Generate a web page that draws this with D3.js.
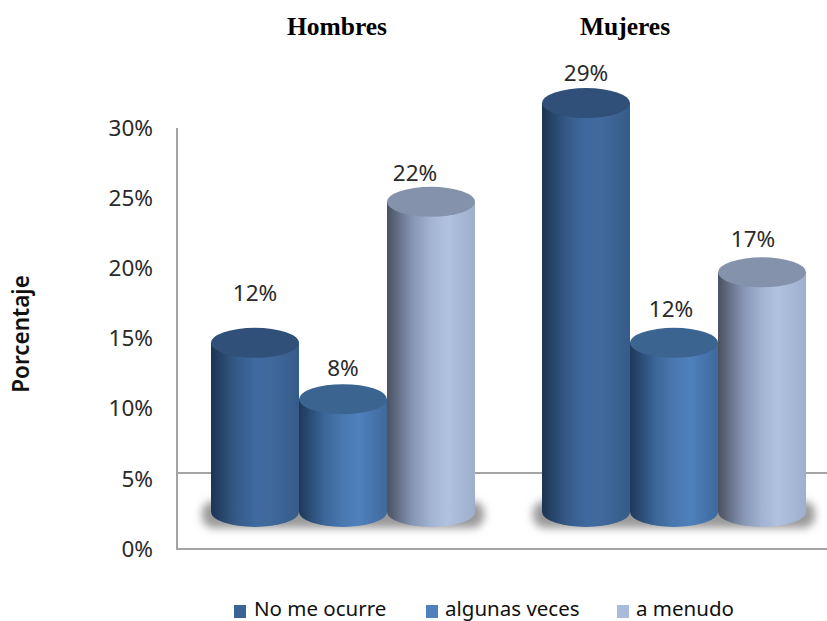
<!DOCTYPE html>
<html><head><meta charset="utf-8">
<script src="https://cdn.jsdelivr.net/npm/d3@7"></script>
<style>
html,body{margin:0;padding:0;background:#fff}
svg{display:block}
text{fill:#2a2a2a}
</style></head>
<body><svg id="c" width="827" height="621"></svg>
<script>
const groups = ["Hombres", "Mujeres"];
const seriesNames = ["No me ocurre", "algunas veces", "a menudo"];
const hombres = [12, 8, 22];
const mujeres = [29, 12, 17];
const tickValues = [0, 5, 10, 15, 20, 25, 30];
const seriesColors = [
  {stops:["#1d3452","#355a88","#3f6a9f","#41699c","#355b89"], top:"#305079", legend:"#3a6496"},
  {stops:["#1e3859","#3a6597","#4a78b0","#4f81bd","#3e699d"], top:"#3b6491", legend:"#4f81bd"},
  {stops:["#4a5160","#8494b2","#a3b3d3","#b1c2e1","#9dafcd"], top:"#8492ab", legend:"#a9bbdb"}
];
// label placement offsets, layout only (group, then series)
const labelLift = [[50,31,29],[30,34,33]];
const labelShift = [[0,0,-16],[0,-3,-9]];

const svg = d3.select("#c");
const axisY = d3.scaleLinear().domain([0,30]).range([549,128]);
const barY = d3.scaleLinear().domain([0,30]).range([512,89]);
const x0 = d3.scaleBand().domain(groups).range([211,806]).paddingInner(67/331);
const x1 = d3.scaleBand().domain(seriesNames).range([0,x0.bandwidth()]);
const rx = x1.bandwidth()/2, ry = 15;

const defs = svg.append("defs");
seriesColors.forEach((c,i)=>{
  const g = defs.append("linearGradient").attr("id","g"+i);
  c.stops.forEach((s,j)=>g.append("stop").attr("offset",[0,0.28,0.5,0.68,1][j]).attr("stop-color",s));
});
const blur = defs.append("filter").attr("id","blur").attr("x","-20%").attr("y","-60%").attr("width","140%").attr("height","220%");
blur.append("feGaussianBlur").attr("stdDeviation",4);

// walls and floor
const wallX = 177, right = 827, floorY = 473;
const lineCol = "#a3a3a3";
svg.append("line").attr("x1",wallX).attr("x2",right).attr("y1",floorY).attr("y2",floorY).attr("stroke",lineCol).attr("stroke-width",2);
svg.append("line").attr("x1",wallX).attr("x2",right).attr("y1",axisY(0)).attr("y2",axisY(0)).attr("stroke",lineCol).attr("stroke-width",2);
svg.append("line").attr("x1",wallX).attr("x2",wallX).attr("y1",axisY(30)).attr("y2",axisY(0)+1).attr("stroke",lineCol).attr("stroke-width",2);

// y axis
const yAxis = svg.append("g").attr("transform",`translate(${wallX-24},0)`)
  .call(d3.axisLeft(axisY).tickValues(tickValues).tickSize(0).tickPadding(0).tickFormat(d=>d+"%"));
yAxis.select(".domain").remove();
yAxis.selectAll("text").attr("font-family","'Noto Sans'").attr("font-size",22.5).style("fill","#2a2a2a");

// shadows
svg.append("g").selectAll("rect").data(groups).join("rect")
  .attr("x",d=>x0(d)-9).attr("width",x0.bandwidth()+18)
  .attr("y",barY(0)-11).attr("height",27).attr("rx",12)
  .attr("fill","#999").attr("filter","url(#blur)");

// cylinders
const rows = [hombres, mujeres];
groups.forEach((g,gi)=>{
  rows[gi].forEach((v,si)=>{
    const left = x0(g)+x1(seriesNames[si]), cx = left+rx, top = barY(v), base = barY(0);
    const grp = svg.append("g");
    grp.append("path")
      .attr("d",`M${left},${top}L${left},${base}A${rx},${ry} 0 0 0 ${left+2*rx},${base}L${left+2*rx},${top}Z`)
      .attr("fill",`url(#g${si})`);
    grp.append("ellipse").attr("cx",cx).attr("cy",top).attr("rx",rx).attr("ry",ry)
      .attr("fill",seriesColors[si].top);
    grp.append("text").attr("x",cx+labelShift[gi][si]).attr("y",top-labelLift[gi][si]+8)
      .attr("text-anchor","middle").attr("font-family","'Noto Sans'").attr("font-size",22.5).text(v+"%");
  });
});

// titles
svg.append("g").selectAll("text").data(groups).join("text")
  .attr("x",(d,i)=>[337,625][i]).attr("y",35).attr("text-anchor","middle")
  .attr("font-family","'Liberation Serif'").attr("font-weight","bold").attr("font-size",25.5)
  .style("fill","#000").text(d=>d);

// y title
svg.append("text").attr("transform","translate(29,334) rotate(-90)")
  .attr("text-anchor","middle").attr("font-family","'Noto Sans'").attr("font-weight","600")
  .attr("font-size",22.5).style("fill","#111").text("Porcentaje");

// legend
const legendX = [234,426,617];
const leg = svg.append("g").selectAll("g").data(seriesNames).join("g")
  .attr("transform",(d,i)=>`translate(${legendX[i]},0)`);
leg.append("rect").attr("x",0).attr("y",605).attr("width",12).attr("height",13)
  .attr("fill",(d,i)=>seriesColors[i].legend);
leg.append("text").attr("x",(d,i)=>i?19:20).attr("y",616).attr("font-family","'Noto Sans'").attr("font-size",20.5)
  .style("fill","#111").text(d=>d);
</script></body></html>
